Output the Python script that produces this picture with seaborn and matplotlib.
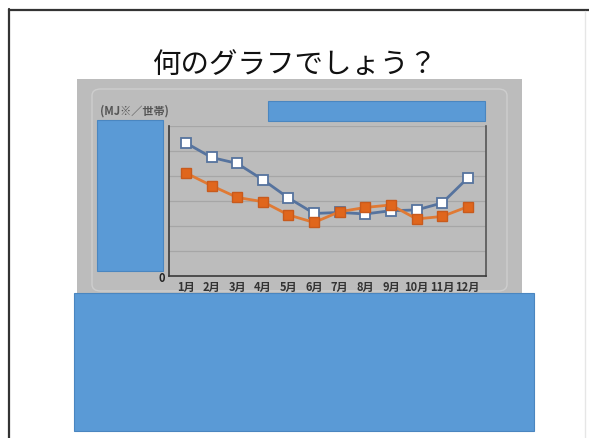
import numpy as np
import pandas as pd
import matplotlib
matplotlib.use("Agg")
import matplotlib.pyplot as plt
from matplotlib.patches import Rectangle, FancyBboxPatch
from matplotlib.lines import Line2D
import seaborn as sns

# data (y units = grid steps, axis labels are hidden)
months = [1, 2, 3, 4, 5, 6, 7, 8, 9, 10, 11, 12]
month_labels = ["1月", "2月", "3月", "4月", "5月", "6月", "7月", "8月", "9月", "10月", "11月", "12月"]
series_a = [5.31, 4.73, 4.49, 3.84, 3.11, 2.49, 2.53, 2.47, 2.60, 2.63, 2.91, 3.91]
series_b = [4.11, 3.60, 3.13, 2.96, 2.43, 2.13, 2.56, 2.73, 2.83, 2.27, 2.37, 2.76]
title = "何のグラフでしょう？"
unit_label = "(MJ※／世帯)"

sns.set_theme(style="white")
plt.rcParams['font.family'] = ['Noto Sans CJK JP', 'DejaVu Sans']

W, H = 589, 439
fig = plt.figure(figsize=(W / 100, H / 100), dpi=100)
fig.patch.set_facecolor("white")


def fx(px):
    return px / W


def fy(py):
    return 1 - py / H


def rect(x0, y0, x1, y1, **kw):
    r = Rectangle((fx(x0), fy(y1)), fx(x1) - fx(x0), fy(y0) - fy(y1),
                  transform=fig.transFigure, **kw)
    fig.add_artist(r)
    return r


# slide border
fig.add_artist(Line2D([fx(9), fx(9)], [fy(10), fy(439)], transform=fig.transFigure,
                      color="#333333", lw=1.6))
fig.add_artist(Line2D([fx(9), fx(589)], [fy(10.5), fy(10.5)], transform=fig.transFigure,
                      color="#333333", lw=1.6))
fig.add_artist(Line2D([fx(585), fx(585)], [fy(12), fy(439)], transform=fig.transFigure,
                      color="#e6e6e6", lw=1.0))

# the photographed chart background
rect(77, 80, 522, 296, facecolor="#bcbcbc", edgecolor="none", zorder=0)
panel = FancyBboxPatch((fx(92), fy(292)), fx(507) - fx(92), fy(90) - fy(292),
                       boxstyle="round,pad=0,rounding_size=0.015",
                       transform=fig.transFigure, facecolor="none",
                       edgecolor="#cecece", lw=1.0, zorder=1)
fig.add_artist(panel)

fig.text(fx(295), fy(65), title, ha="center", va="center", fontsize=20.5, color="#111111")

# plot area
ax = fig.add_axes([fx(169.3), fy(276.7), fx(486) - fx(169.3), fy(126.7) - fy(276.7)])
ax.set_facecolor("none")
ax.set_zorder(2)

df = pd.DataFrame({"month": months * 2,
                   "value": series_a + series_b,
                   "series": ["A"] * 12 + ["B"] * 12})

sns.lineplot(data=df[df.series == "A"], x="month", y="value", ax=ax,
             color="#56739e", lw=2.0, marker="s", markersize=7.5,
             markerfacecolor="white", markeredgecolor="#56739e", markeredgewidth=1.3)
sns.lineplot(data=df[df.series == "B"], x="month", y="value", ax=ax,
             color="#e07a34", lw=2.0, marker="s", markersize=6.5,
             markerfacecolor="#e0661c", markeredgecolor="#c85a1c", markeredgewidth=1.0)

ax.set_xlim(0.35, 12.71)
ax.set_ylim(0, 6)
for g in range(1, 7):
    ax.axhline(g, color="#a6a6a6", lw=0.9, zorder=0)
ax.set_yticks([0])
ax.set_yticklabels(["0"], fontsize=8, fontweight="bold", color="#222222")
ax.set_xticks(months)
ax.set_xticklabels(month_labels, fontsize=8, fontweight="bold", color="#333333")
ax.tick_params(axis="x", length=2, pad=3, color="#666666", direction="in")
ax.tick_params(axis="y", length=0, pad=3)
ax.set_xlabel("")
ax.set_ylabel("")
for side in ["left", "bottom", "right"]:
    ax.spines[side].set_color("#3a3a3a")
    ax.spines[side].set_linewidth(1.2)
ax.spines["top"].set_visible(False)
ax.spines["right"].set_color("#555555")

fig.text(fx(100), fy(111), unit_label, ha="left", va="center", fontsize=8,
         fontweight="bold", color="#555555", zorder=3)

# cover boxes
blue = "#5a9ad6"
rect(97, 121, 163, 272, facecolor=blue, edgecolor="#4a86c0", lw=0.8, zorder=10)
rect(268, 102, 485, 122, facecolor=blue, edgecolor="#4a86c0", lw=0.8, zorder=10)
rect(74, 294, 534, 432, facecolor=blue, edgecolor="#4a86c0", lw=0.8, zorder=10)

fig.savefig("out.png", dpi=100)
